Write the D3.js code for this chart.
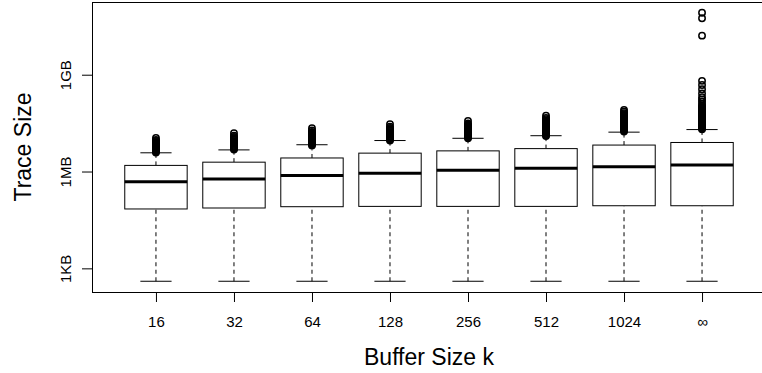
<!DOCTYPE html>
<html>
<head>
<meta charset="utf-8">
<script src="https://cdn.jsdelivr.net/npm/d3@7"></script>
<style>
  body { margin: 0; background: #fff; }
  text { font-family: "Liberation Sans", Arial, Helvetica, sans-serif; fill: #000; }
</style>
</head>
<body>
<svg id="plot"></svg>
<script>
// box stats, all in log10(bytes)
const labels = ["16", "32", "64", "128", "256", "512", "1024", "\u221e"];
const whiskerLo = [2.60, 2.60, 2.60, 2.60, 2.60, 2.60, 2.60, 2.60];
const q1 = [4.84, 4.87, 4.91, 4.92, 4.92, 4.92, 4.94, 4.94];
const median = [5.68, 5.77, 5.88, 5.95, 6.04, 6.10, 6.15, 6.20];
const q3 = [6.19, 6.29, 6.42, 6.57, 6.64, 6.71, 6.82, 6.90];
const whiskerHi = [6.58, 6.67, 6.83, 6.96, 7.03, 7.11, 7.22, 7.30];

// outliers (log10 bytes), one list per box
const outliers = [
    [6.59, 6.62, 6.65, 6.68, 6.71, 6.74, 6.77, 6.80, 6.83, 6.86, 6.89, 6.92, 6.95, 6.98, 7.04],
    [6.68, 6.71, 6.74, 6.77, 6.80, 6.83, 6.86, 6.89, 6.92, 6.95, 6.98, 7.01, 7.04, 7.07, 7.11, 7.19],
    [6.81, 6.84, 6.87, 6.90, 6.93, 6.96, 6.99, 7.02, 7.05, 7.08, 7.11, 7.14, 7.17, 7.20, 7.23, 7.27, 7.34],
    [6.96, 6.99, 7.02, 7.05, 7.08, 7.11, 7.14, 7.17, 7.20, 7.23, 7.26, 7.29, 7.32, 7.35, 7.39, 7.47],
    [7.03, 7.06, 7.09, 7.12, 7.15, 7.18, 7.21, 7.24, 7.27, 7.30, 7.33, 7.36, 7.39, 7.42, 7.45, 7.49, 7.57],
    [7.10, 7.13, 7.16, 7.19, 7.22, 7.25, 7.28, 7.31, 7.34, 7.37, 7.40, 7.43, 7.46, 7.49, 7.52, 7.55, 7.58, 7.62, 7.66, 7.73],
    [7.24, 7.27, 7.30, 7.33, 7.36, 7.39, 7.42, 7.45, 7.48, 7.51, 7.54, 7.57, 7.60, 7.63, 7.66, 7.69, 7.72, 7.75, 7.78, 7.81, 7.85, 7.91],
    [7.31, 7.34, 7.37, 7.40, 7.43, 7.46, 7.49, 7.52, 7.55, 7.58, 7.61, 7.64, 7.67, 7.70, 7.73, 7.76, 7.79, 7.82, 7.85, 7.88,
     7.91, 7.94, 7.97, 8.00, 8.03, 8.09, 8.16, 8.23, 8.30, 8.42, 8.55, 8.68, 8.81, 10.21, 10.75, 10.92]
];

// y ticks
const yTickValues = [1e3, 1e6, 1e9];
const yTickLabels = ["1KB", "1MB", "1GB"];

const W = 762, H = 373;
const margin = { top: 2, right: -4, bottom: 81, left: 92 };

const svg = d3.select("#plot")
    .attr("width", W)
    .attr("height", H);

const x0 = margin.left, x1 = W - margin.right;
const y0 = H - margin.bottom, y1 = margin.top;

// R style: 4% padding around data range
const allVals = whiskerLo.concat(outliers.flat());
const lo = d3.min(allVals), hi = d3.max(allVals);
const pad = (hi - lo) * 0.04;

const yScale = d3.scaleLog()
    .domain([10 ** (lo - pad), 10 ** (hi + pad)])
    .range([y0, y1]);

const n = labels.length;
const xScale = d3.scaleLinear()
    .domain([0.5 - n * 0.04, n + 0.5 + n * 0.04])
    .range([x0, x1]);

const boxW = (xScale(1.4) - xScale(1)) * 2;   // boxwex 0.8
const capW = boxW / 2;

const y = v => yScale(10 ** v);

// boxes
const boxes = labels.map((l, i) => ({ i: i + 1, label: l, lo: whiskerLo[i], q1: q1[i], med: median[i], q3: q3[i], hi: whiskerHi[i], out: outliers[i] }));

const g = svg.selectAll(".box")
    .data(boxes)
    .enter().append("g")
    .attr("class", "box");

// dashed whiskers
g.append("line")
    .attr("x1", d => xScale(d.i)).attr("x2", d => xScale(d.i))
    .attr("y1", d => y(d.lo)).attr("y2", d => y(d.q1))
    .attr("stroke", "#000").attr("stroke-dasharray", "4,3.5");
g.append("line")
    .attr("x1", d => xScale(d.i)).attr("x2", d => xScale(d.i))
    .attr("y1", d => y(d.q3)).attr("y2", d => y(d.hi))
    .attr("stroke", "#000").attr("stroke-dasharray", "4,3.5");

// staples
g.append("line")
    .attr("x1", d => xScale(d.i) - capW / 2).attr("x2", d => xScale(d.i) + capW / 2)
    .attr("y1", d => y(d.lo)).attr("y2", d => y(d.lo))
    .attr("stroke", "#000");
g.append("line")
    .attr("x1", d => xScale(d.i) - capW / 2).attr("x2", d => xScale(d.i) + capW / 2)
    .attr("y1", d => y(d.hi)).attr("y2", d => y(d.hi))
    .attr("stroke", "#000");

// box
g.append("rect")
    .attr("x", d => xScale(d.i) - boxW / 2)
    .attr("width", boxW)
    .attr("y", d => y(d.q3))
    .attr("height", d => y(d.q1) - y(d.q3))
    .attr("fill", "#fff")
    .attr("stroke", "#000");

// median
g.append("line")
    .attr("x1", d => xScale(d.i) - boxW / 2).attr("x2", d => xScale(d.i) + boxW / 2)
    .attr("y1", d => y(d.med)).attr("y2", d => y(d.med))
    .attr("stroke", "#000").attr("stroke-width", 3);

// outliers
g.selectAll(".out")
    .data(d => d.out.map(v => ({ i: d.i, v: v })))
    .enter().append("circle")
    .attr("class", "out")
    .attr("cx", d => xScale(d.i))
    .attr("cy", d => y(d.v))
    .attr("r", 3.2)
    .attr("fill", "none")
    .attr("stroke", "#000")
    .attr("stroke-width", 1.5);

// frame
svg.append("rect")
    .attr("x", x0 + 0.5).attr("y", y1 + 0.5)
    .attr("width", x1 - x0).attr("height", y0 - y1)
    .attr("fill", "none").attr("stroke", "#000");

// x axis
const xAxis = d3.axisBottom(xScale)
    .tickValues(d3.range(1, n + 1))
    .tickFormat(i => labels[i - 1])
    .tickSize(10)
    .tickSizeOuter(0);
const gx = svg.append("g")
    .attr("transform", `translate(0, ${y0})`)
    .call(xAxis);
gx.select(".domain").remove();
gx.selectAll("text")
    .attr("y", 35).attr("dy", 0)
    .style("font-size", "15px");

// y axis
const yAxis = d3.axisLeft(yScale)
    .tickValues(yTickValues)
    .tickFormat((d, i) => yTickLabels[i])
    .tickSize(10)
    .tickSizeOuter(0);
const gy = svg.append("g")
    .attr("transform", `translate(${x0}, 0)`)
    .call(yAxis);
gy.select(".domain").remove();
gy.selectAll("text")
    .attr("x", 0).attr("y", -21).attr("dy", 0)
    .attr("transform", "rotate(-90)")
    .style("text-anchor", "middle")
    .style("font-size", "15px");

// axis titles
svg.append("text")
    .attr("x", (x0 + x1) / 2)
    .attr("y", 365)
    .style("text-anchor", "middle")
    .style("font-size", "23px")
    .text("Buffer Size k");

svg.append("text")
    .attr("transform", `translate(31, ${(y0 + y1) / 2}) rotate(-90)`)
    .style("text-anchor", "middle")
    .style("font-size", "23px")
    .text("Trace Size");
</script>
</body>
</html>
